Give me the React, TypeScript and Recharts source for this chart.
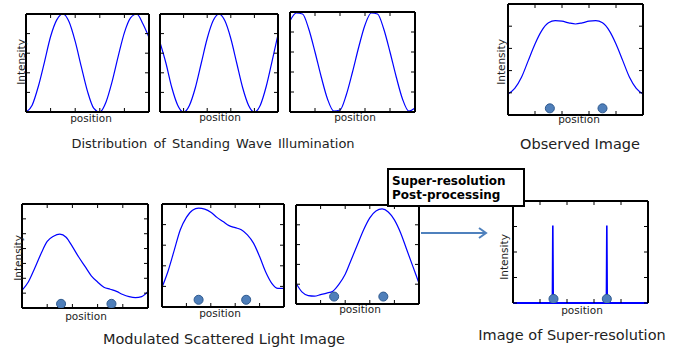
import React from "react";
import { ComposedChart, Line, Scatter, XAxis, YAxis } from "recharts";

const FONT = '"DejaVu Sans", Verdana, sans-serif';
const BLUE = "#0000ff";
const DOT_FILL = "#4f7fba";
const DOT_STROKE = "#2f5a8f";

// shared sampling positions (fraction of the field of view)
const positions = [
  0, 0.05, 0.1, 0.15, 0.2, 0.25, 0.3, 0.35, 0.4, 0.45, 0.5, 0.55, 0.6, 0.65, 0.7,
  0.75, 0.8, 0.85, 0.9, 0.95, 1,
];

// standing wave illumination, three phases
const standingA = [0, 0.07, 0.26, 0.51, 0.77, 0.94, 1.0, 0.92, 0.72, 0.46, 0.21, 0.04, 0.0, 0.1, 0.31, 0.57, 0.81, 0.96, 1.0, 0.9, 0.76];
const standingB = [0.71, 0.5, 0.25, 0.07, 0.0, 0.07, 0.25, 0.5, 0.75, 0.93, 1.0, 0.93, 0.75, 0.5, 0.25, 0.07, 0.0, 0.07, 0.26, 0.52, 0.79];
const standingC = [0.91, 0.99, 0.98, 0.83, 0.6, 0.35, 0.13, 0.01, 0.02, 0.17, 0.4, 0.65, 0.87, 0.99, 0.98, 0.83, 0.6, 0.35, 0.13, 0.01, 0.04];

// widefield observed image
const observed = [0.19, 0.24, 0.34, 0.49, 0.64, 0.76, 0.83, 0.85, 0.845, 0.83, 0.82, 0.83, 0.845, 0.85, 0.83, 0.76, 0.64, 0.49, 0.34, 0.24, 0.19];

// modulated scattered light, three phases
const modulatedA = [0.17, 0.25, 0.38, 0.52, 0.64, 0.69, 0.71, 0.68, 0.59, 0.49, 0.4, 0.31, 0.25, 0.2, 0.18, 0.16, 0.13, 0.11, 0.1, 0.11, 0.16];
const modulatedB = [0.19, 0.35, 0.55, 0.75, 0.87, 0.94, 0.96, 0.95, 0.92, 0.87, 0.83, 0.79, 0.77, 0.75, 0.7, 0.62, 0.49, 0.34, 0.23, 0.18, 0.18];
const modulatedC = [0.21, 0.12, 0.085, 0.08, 0.095, 0.11, 0.13, 0.2, 0.3, 0.45, 0.6, 0.75, 0.87, 0.94, 0.96, 0.93, 0.85, 0.72, 0.55, 0.38, 0.21];

// super-resolved image
const superPositions = [0, 0.288, 0.292, 0.295, 0.298, 0.302, 0.688, 0.692, 0.695, 0.698, 0.702, 1];
const superValues = [0, 0, 0.02, 0.76, 0.02, 0, 0, 0.02, 0.76, 0.02, 0, 0];

// scatterer locations
const dotsObserved = [0.31, 0.7];
const dotsModA = [0.31, 0.71];
const dotsModB = [0.3, 0.69];
const dotsModC = [0.31, 0.71];
const dotsSuper = [0.3, 0.695];

const fifths = [0, 0.2, 0.4, 0.6, 0.8, 1];
const sevenths = [0, 1 / 7, 2 / 7, 3 / 7, 4 / 7, 5 / 7, 6 / 7, 1];
const quarters = [0, 0.25, 0.5, 0.75, 1];

type Box = { x: number; y: number; w: number; h: number };
const PAD = 6;

function toRows(xs: number[], ys: number[]) {
  return xs.map((x, i) => ({ x, y: ys[i] }));
}

// tick labels are not shown, only the inward tick marks
const NoLabel = () => <g />;

function Panel({
  box,
  xs,
  ys,
  dots,
  dotY = 0.05,
  yTicks = fifths,
  curve = "monotone",
  lineWidth = 1.2,
  baseColor = "#000",
}: {
  box: Box;
  xs: number[];
  ys: number[];
  dots?: number[];
  dotY?: number;
  yTicks?: number[];
  curve?: "monotone" | "linear";
  lineWidth?: number;
  baseColor?: string;
}) {
  const data = toRows(xs, ys);
  const dotData = dots ? dots.map((x) => ({ x, y: dotY })) : [];
  const axisLine = { stroke: "#000", strokeWidth: 2 };
  const tickLine = { stroke: "#000", strokeWidth: 1 };
  const m = PAD - 1;
  return (
    <div style={{ position: "absolute", left: box.x - PAD, top: box.y - PAD }}>
      <ComposedChart
        width={box.w + PAD * 2}
        height={box.h + PAD * 2}
        data={data}
        margin={{ top: m, right: m, bottom: m, left: m }}
      >
        <XAxis xAxisId="b" orientation="bottom" type="number" dataKey="x" domain={[0, 1]} ticks={fifths}
          tick={NoLabel} tickSize={4} mirror height={1} axisLine={{ ...axisLine, stroke: baseColor }}
          tickLine={tickLine} allowDataOverflow interval={0} />
        <XAxis xAxisId="t" orientation="top" type="number" dataKey="x" domain={[0, 1]} ticks={fifths}
          tick={NoLabel} tickSize={4} mirror height={1} axisLine={axisLine} tickLine={tickLine} allowDataOverflow interval={0} />
        <YAxis yAxisId="l" orientation="left" type="number" domain={[0, 1]} ticks={yTicks}
          tick={NoLabel} tickSize={4} mirror width={1} axisLine={axisLine} tickLine={tickLine} allowDataOverflow interval={0} />
        <YAxis yAxisId="r" orientation="right" type="number" domain={[0, 1]} ticks={yTicks}
          tick={NoLabel} tickSize={4} mirror width={1} axisLine={axisLine} tickLine={tickLine} allowDataOverflow interval={0} />
        <Line xAxisId="b" yAxisId="l" type={curve} dataKey="y" stroke={BLUE} strokeWidth={lineWidth}
          dot={false} activeDot={false} isAnimationActive={false} />
        {dots && (
          <Scatter xAxisId="b" yAxisId="l" data={dotData} dataKey="y" fill={DOT_FILL} stroke={DOT_STROKE}
            strokeWidth={1} isAnimationActive={false} />
        )}
      </ComposedChart>
    </div>
  );
}

const small = { fontFamily: FONT, fontSize: 10.5, fill: "#222" };
const caption = { fontFamily: FONT, fontSize: 14.5, fill: "#222" };

function Intensity({ x, y }: { x: number; y: number }) {
  return (
    <text x={x} y={y} transform={`rotate(-90 ${x} ${y})`} textAnchor="middle" style={small}>
      Intensity
    </text>
  );
}

function Position({ x, y }: { x: number; y: number }) {
  return (
    <text x={x} y={y} textAnchor="middle" style={small}>
      position
    </text>
  );
}

export default function App() {
  return (
    <div style={{ position: "absolute", left: 0, top: 0, width: 681, height: 350, background: "#fff", overflow: "hidden" }}>
      <Panel box={{ x: 27, y: 15, w: 121, h: 96 }} xs={positions} ys={standingA} />
      <Panel box={{ x: 161, y: 15, w: 116, h: 96 }} xs={positions} ys={standingB} />
      <Panel box={{ x: 291, y: 13, w: 123, h: 98 }} xs={positions} ys={standingC} />
      <Panel box={{ x: 509, y: 5, w: 133, h: 109 }} xs={positions} ys={observed} dots={dotsObserved} dotY={0.06} />
      <Panel box={{ x: 23, y: 205, w: 124, h: 102 }} xs={positions} ys={modulatedA} dots={dotsModA} dotY={0.04} yTicks={sevenths} />
      <Panel box={{ x: 163, y: 205, w: 120, h: 101 }} xs={positions} ys={modulatedB} dots={dotsModB} dotY={0.07} />
      <Panel box={{ x: 297, y: 206, w: 121, h: 97 }} xs={positions} ys={modulatedC} dots={dotsModC} dotY={0.075} />
      <Panel box={{ x: 514, y: 202, w: 133, h: 100 }} xs={superPositions} ys={superValues} dots={dotsSuper}
        dotY={0.04} yTicks={quarters} curve="linear" lineWidth={1.6} baseColor={BLUE} />

      <svg width={681} height={350} style={{ position: "absolute", left: 0, top: 0 }}>
        <Intensity x={25} y={62} />
        <Intensity x={505} y={62} />
        <Intensity x={22} y={258} />
        <Intensity x={508} y={257} />

        <Position x={91} y={122} />
        <Position x={220} y={121} />
        <Position x={355} y={121} />
        <Position x={579} y={123} />
        <Position x={86} y={320} />
        <Position x={220} y={317} />
        <Position x={360} y={313} />
        <Position x={582} y={314} />

        <text x={213} y={148} textAnchor="middle" style={{ ...caption, fontSize: 13 }} wordSpacing={2}>
          Distribution of Standing Wave Illumination
        </text>
        <text x={580} y={149} textAnchor="middle" style={caption}>
          Observed Image
        </text>
        <text x={224} y={344} textAnchor="middle" style={caption}>
          Modulated Scattered Light Image
        </text>
        <text x={572} y={340} textAnchor="middle" style={caption}>
          Image of Super-resolution
        </text>

        <line x1={421} y1={233} x2={486} y2={233} stroke="#4f81bd" strokeWidth={2} />
        <polyline points="479,228 486,233 479,238" fill="none" stroke="#4f81bd" strokeWidth={2} />

        <rect x={388} y={169} width={136} height={37} fill="#fff" stroke="#000" strokeWidth={2} />
        <text x={392} y={185} style={{ fontFamily: FONT, fontSize: 12, fontWeight: 700, fill: "#000" }}>
          Super-resolution
        </text>
        <text x={392} y={199} style={{ fontFamily: FONT, fontSize: 12, fontWeight: 700, fill: "#000" }}>
          Post-processing
        </text>
      </svg>
    </div>
  );
}
